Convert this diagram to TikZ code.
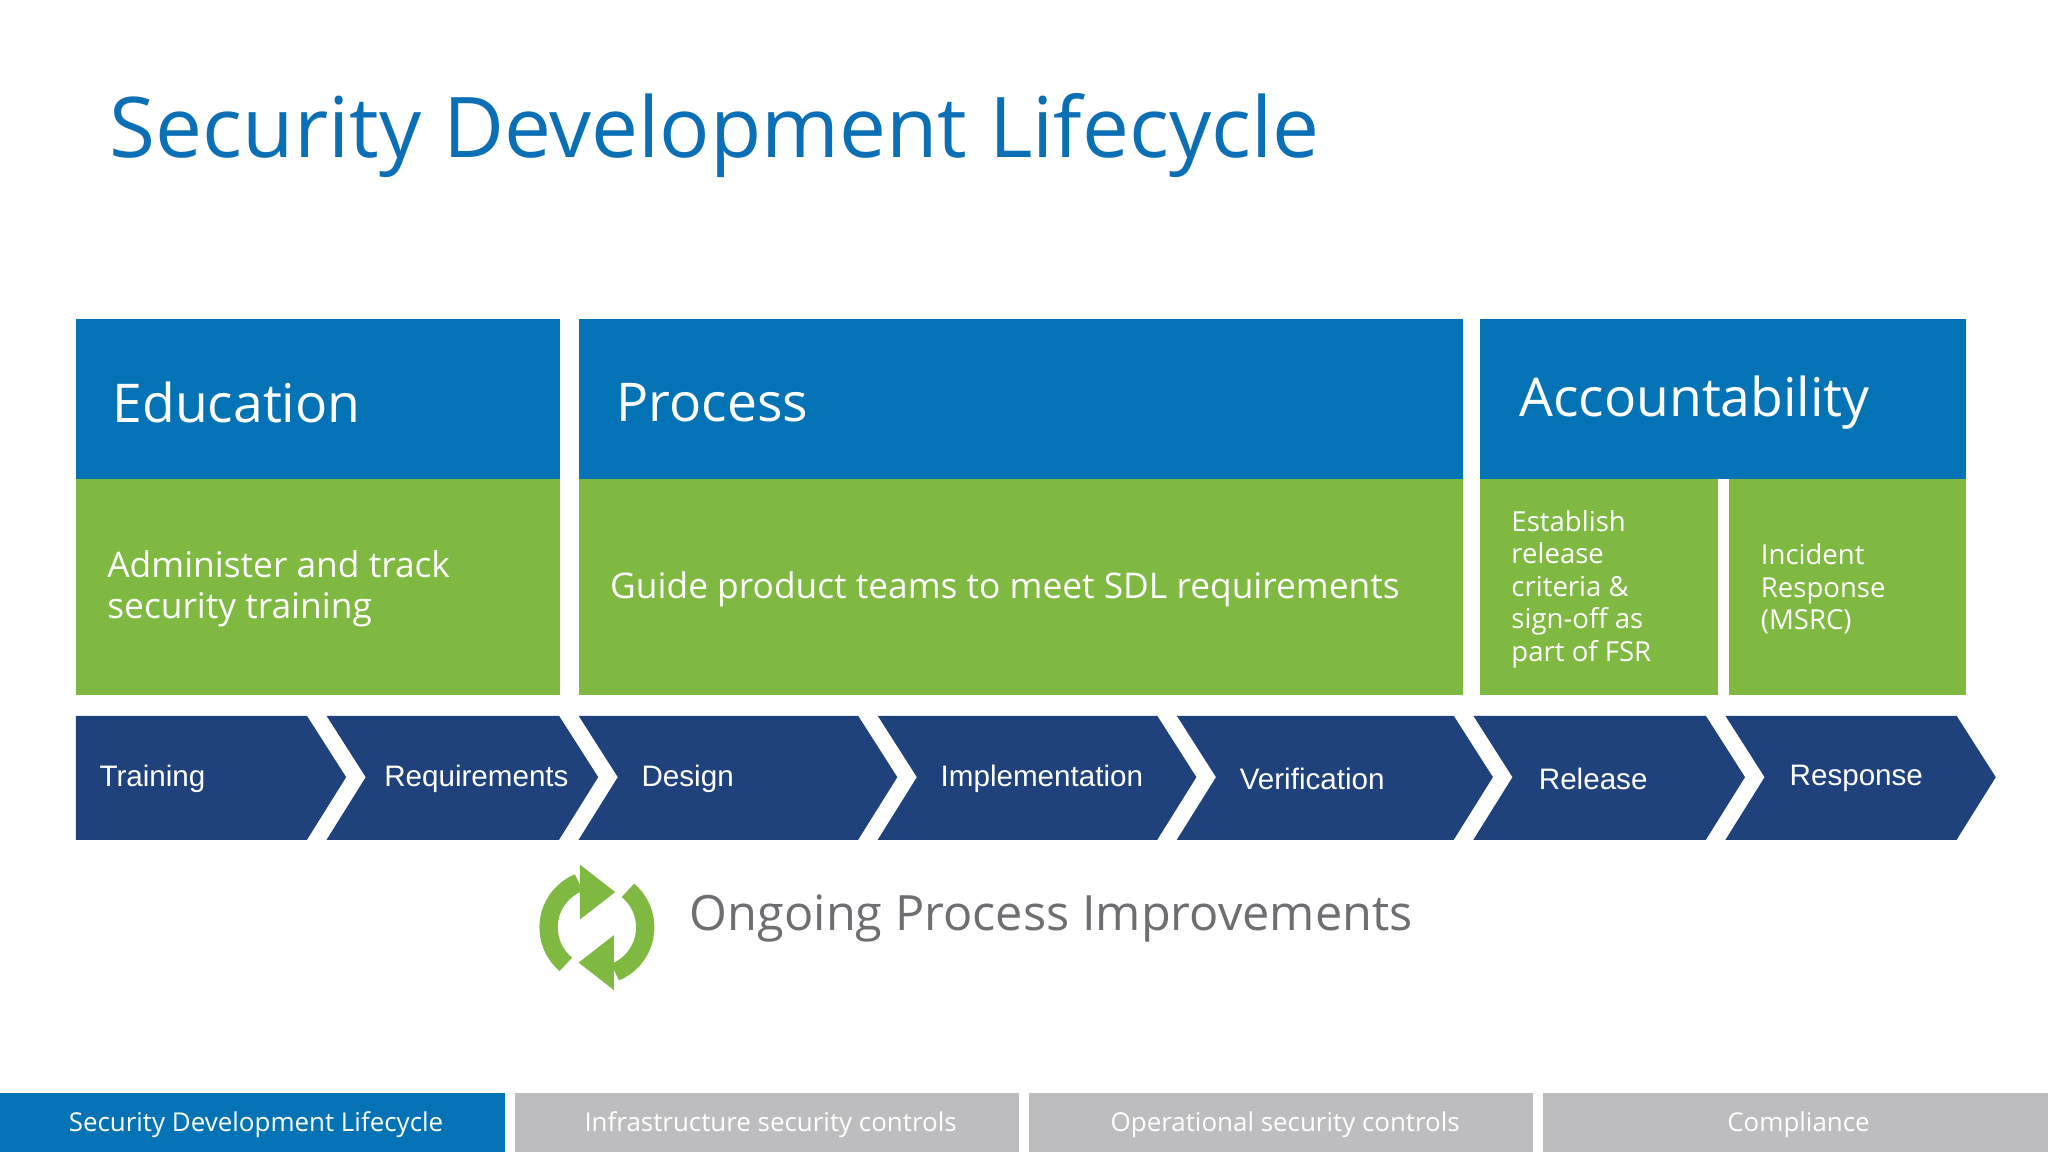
\documentclass[tikz,border=0pt]{standalone}
\usepackage{fontspec}
\setmainfont{Open Sans}
\newfontfamily\arialf{Liberation Sans}
\usetikzlibrary{arrows.meta}
\definecolor{hblue}{HTML}{0473B6}
\definecolor{sgreen}{HTML}{80B941}
\definecolor{navy}{HTML}{1F417C}
\definecolor{tblue}{HTML}{0B6FB5}
\definecolor{gtext}{HTML}{6D6E71}
\definecolor{tabg}{HTML}{BDBDBF}
\begin{document}
\begin{tikzpicture}[x=0.02cm,y=-0.02cm,
 hdr/.style={font=\fontsize{23.3}{28}\selectfont,text=white,anchor=west},
 gtxt/.style={font=\fontsize{15.4}{18}\selectfont,text=white,anchor=west,align=left},
 stxt/.style={font=\fontsize{12}{14.2}\selectfont,text=white,anchor=west,align=left},
 chv/.style={fill=navy},
 ctxt/.style={font=\arialf\fontsize{12.9}{15}\selectfont,text=white,anchor=west},
 tab/.style={font=\fontsize{11.3}{14}\selectfont,text=white}]
\useasboundingbox (0,0) rectangle (1568,882);
\fill[white] (0,0) rectangle (1568,882);
\node[anchor=west,text=tblue,font=\fontsize{36.5}{42}\selectfont] (title) at (78,104) {Security Development Lifecycle};
% headers
\fill[hblue] (58,244) rectangle (429,367);
\fill[hblue] (443,244) rectangle (1120,367);
\fill[hblue] (1133,244) rectangle (1505,367);
\node[hdr] (edu) at (80,308) {Education};
\node[hdr] (pro) at (466,308) {Process};
\node[hdr] (acc) at (1157,308) {Accountability};
\fill[sgreen] (58,367) rectangle (429,532);
\fill[sgreen] (443,367) rectangle (1120,532);
\fill[sgreen] (1133,367) rectangle (1315,532);
\fill[sgreen] (1324,367) rectangle (1505,532);
\node[gtxt] (g1) at (76,451) {Administer and track\\security training};
\node[gtxt] (g2) at (461,451) {Guide product teams to meet SDL requirements};
\node[stxt] (g3) at (1151,451) {Establish\\release\\criteria \&\\sign-off as\\part of FSR};
\node[stxt] (g4) at (1342,451) {Incident\\Response\\(MSRC)};
% chevrons
\fill[chv] (58,548) -- (235,548) -- (265,595) -- (235,643) -- (58,643) -- cycle;
\foreach \L/\R in {250/458,443/687,672/916,901/1143,1128/1336,1321/1528}{
 \fill[chv] (\L,548) -- (\R-30,548) -- (\R,595) -- (\R-30,643) -- (\L,643) -- (\L+30,595) -- cycle;}
\node[ctxt] (c1) at (70,596) {Training};
\node[ctxt] (c2) at (288,596) {Requirements};
\node[ctxt] (c3) at (485,596) {Design};
\node[ctxt] (c4) at (714,596) {Implementation};
\node[ctxt] (c5) at (943,596) {Verification};
\node[ctxt] (c6) at (1172,596) {Release};
\node[ctxt] (c7) at (1364,596) {Response};
% icon
\begin{scope}[shift={(457,710)}]
\draw[sgreen,line width=14*0.02cm] (130:37) arc (130:248:37);
\fill[sgreen] (-13,-48) -- (-13,-6) -- (14,-27) -- cycle;
\draw[sgreen,line width=14*0.02cm] (-50:37) arc (-50:68:37);
\fill[sgreen] (13,48) -- (13,6) -- (-14,27) -- cycle;
\end{scope}
\node[anchor=west,text=gtext,font=\fontsize{21.2}{25}\selectfont] (ong) at (522,703) {Ongoing Process Improvements};
% tabs
\fill[hblue] (0,837) rectangle (387,882);
\fill[tabg] (394,837) rectangle (780,882);
\fill[tabg] (788,837) rectangle (1174,882);
\fill[tabg] (1181,837) rectangle (1568,882);
\node[tab] (t1) at (196,861) {Security Development Lifecycle};
\node[tab] (t2) at (590,861) {Infrastructure security controls};
\node[tab] (t3) at (984,861) {Operational security controls};
\node[tab] (t4) at (1377,861) {Compliance};
\end{tikzpicture}
\end{document}
